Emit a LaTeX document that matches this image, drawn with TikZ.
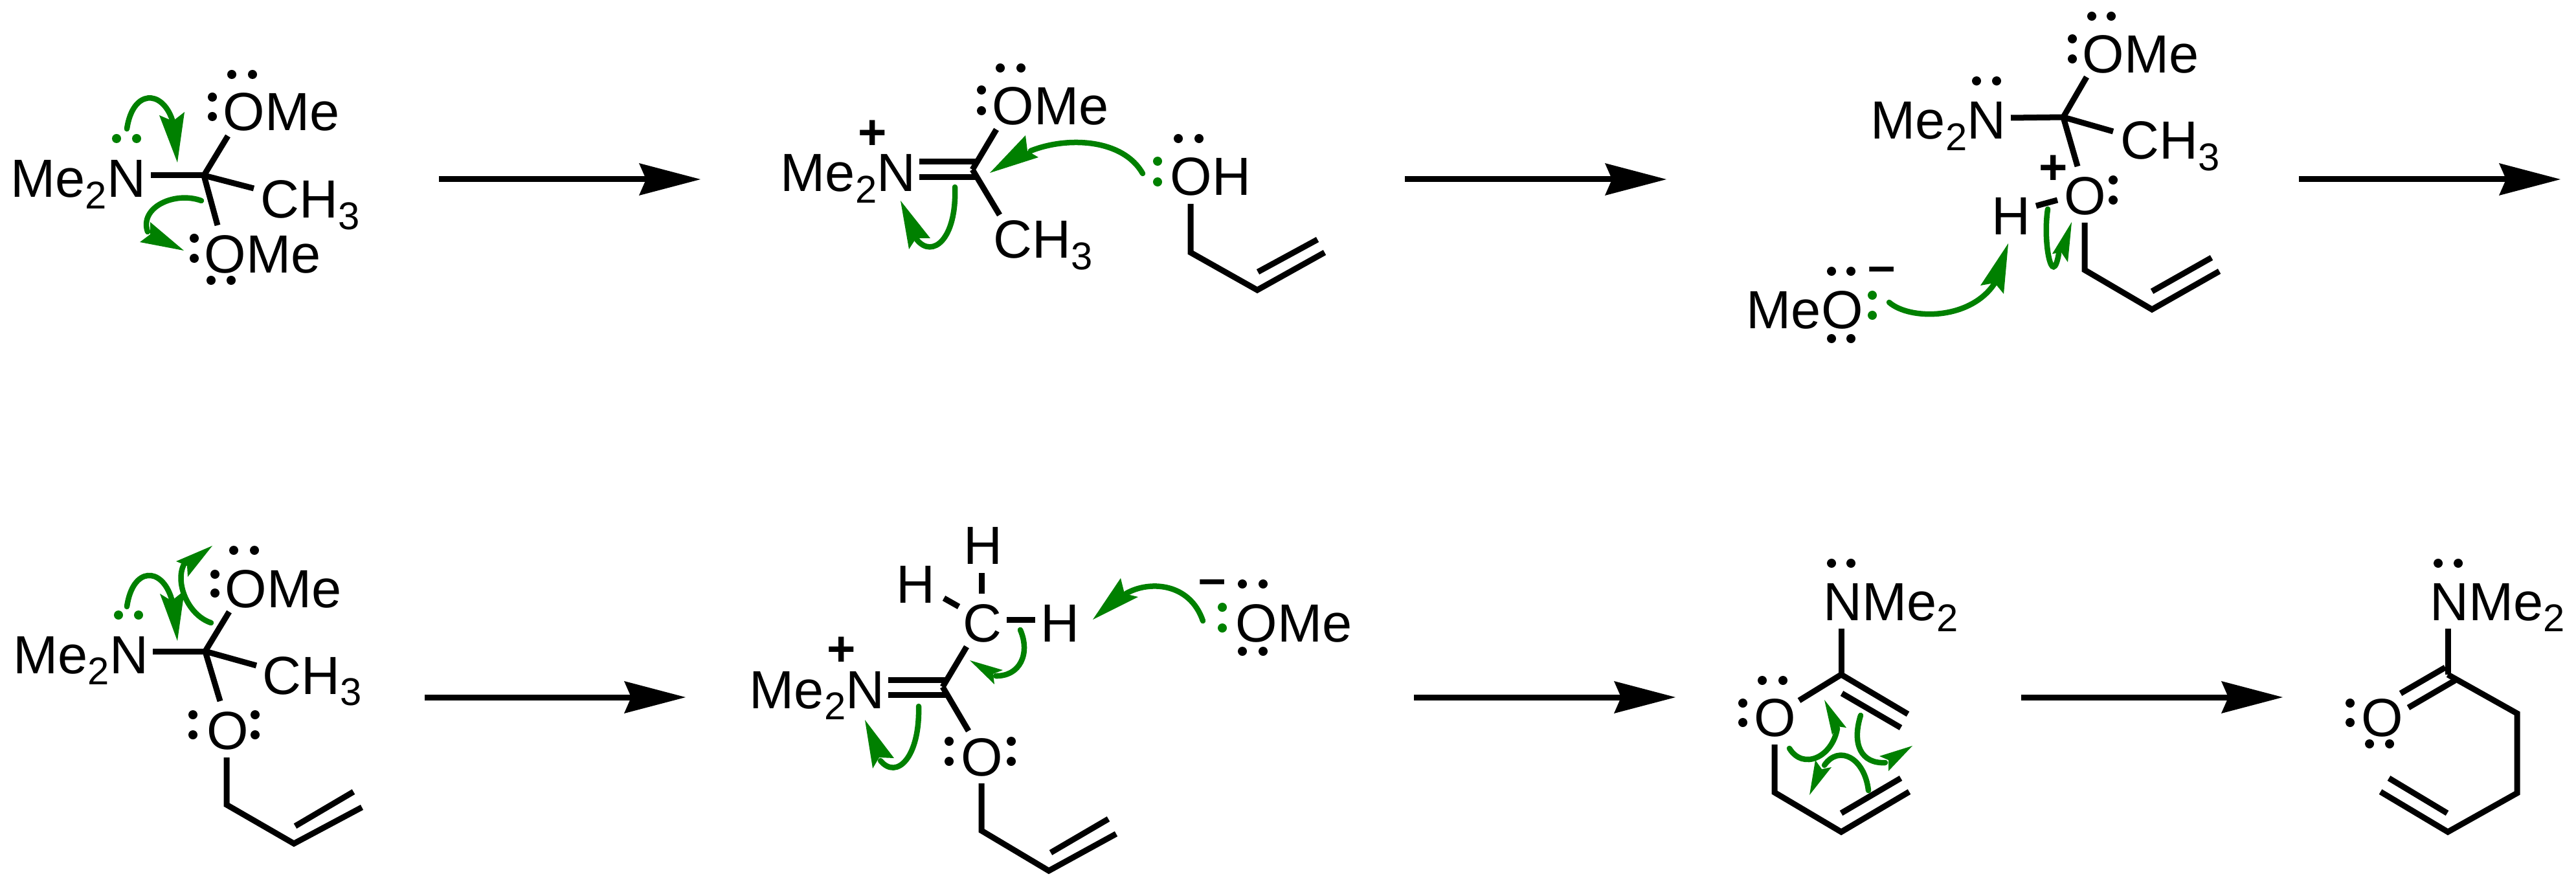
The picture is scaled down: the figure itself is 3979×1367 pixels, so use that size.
\documentclass[tikz,border=0pt]{standalone}
\usepackage{fontspec}
\setmainfont{Liberation Sans}
\usetikzlibrary{arrows.meta}
\definecolor{pushgreen}{RGB}{0,128,0}
\newcommand{\lowd}[1]{\raisebox{-0.17cm}{\fontsize{17}{17}\selectfont #1}}
% curved electron arrow: name, start, two controls, end, tip, barb, notch, barb
\newcommand{\curly}[9]{
  \coordinate (#1s) at #2;
  \coordinate (#1e) at #5;
  \draw[curlytail] (#1s) .. controls #3 and #4 .. (#1e);
  \fill[curlyhead] #6 -- #7 -- #8 -- #9 -- cycle;
}
\tikzset{
  atom/.style={anchor=base west,inner sep=0pt,font=\fontsize{23.6}{28}\selectfont},
  chg/.style={anchor=center,inner sep=0pt,font=\bfseries\fontsize{21.6}{26}\selectfont},
  bond/.style={line width=0.09cm,miter limit=10},
  react/.style={line width=0.09cm,-{Stealth[length=0.95cm,width=0.5cm,inset=0.11cm,line width=0pt]}},
  lp/.style={circle,fill=black,inner sep=0pt,minimum size=0.14cm},
  lpg/.style={lp,fill=pushgreen},
  curlytail/.style={draw=pushgreen,line width=0.085cm,line cap=round},
  curlyhead/.style={fill=pushgreen}
}
\begin{document}
\begin{tikzpicture}[x=0.01cm,y=-0.01cm]
  \useasboundingbox (0,0) rectangle (3979,1367);

  % reaction arrows
  \foreach \n/\x/\y in {r1a/678/277,r1b/1082/277,r2a/2170/277,r2b/2574/277,r3a/3551/277,r3b/3955/277,
    r4a/656/1077,r4b/1059/1077,r5a/2184/1077,r5b/2588/1077,r6a/3122/1077,r6b/3526/1077}
    \coordinate (\n) at (\x,\y);
  \draw[react] (r1a) -- (r1b);
  \draw[react] (r2a) -- (r2b);
  \draw[react] (r3a) -- (r3b);
  \draw[react] (r4a) -- (r4b);
  \draw[react] (r5a) -- (r5b);
  \draw[react] (r6a) -- (r6b);

  % first row
  \node[atom] (me2na) at (16,305) {Me\lowd{2}N};
  \node[atom] (omea) at (344,202) {OMe};
  \node[atom] (cha) at (402,337) {CH\lowd{3}};
  \node[atom] (omeb) at (315,422) {OMe};

  \node[atom] (me2nb) at (1205,296) {Me\lowd{2}N};
  \node[atom] (omec) at (1532,193) {OMe};
  \node[atom] (chb) at (1534,399) {CH\lowd{3}};
  \node[atom] (oha) at (1807,302) {OH};
  \node[chg] (plusa) at (1348,208) {+};

  \node[atom] (me2nc) at (2889,215) {Me\lowd{2}N};
  \node[atom] (omed) at (3216,113) {OMe};
  \node[atom] (chc) at (3275,246) {CH\lowd{3}};
  \node[atom] (oa) at (3188,332) {O};
  \node[atom] (ha) at (3076,363) {H};
  \node[atom] (meoa) at (2697,508) {MeO};
  \node[chg] (plusb) at (3172,262) {+};
  \node[chg] (minusa) at (2907,424) {–};

  % second row
  \node[atom] (me2nd) at (20,1040) {Me\lowd{2}N};
  \node[atom] (omee) at (347,938) {OMe};
  \node[atom] (chd) at (405,1072) {CH\lowd{3}};
  \node[atom] (ob) at (319,1157) {O};

  \node[atom] (me2ne) at (1157,1094) {Me\lowd{2}N};
  \node[atom] (ca) at (1487,991) {C};
  \node[atom] (hb) at (1488,871) {H};
  \node[atom] (hc) at (1384,931) {H};
  \node[atom] (hd) at (1607,991) {H};
  \node[atom] (omef) at (1908,991) {OMe};
  \node[atom] (oc) at (1484,1198) {O};
  \node[chg] (plusc) at (1300,1006) {+};
  \node[chg] (minusb) at (1873,907) {–};

  \node[atom] (nmea) at (2816,958) {NMe\lowd{2}};
  \node[atom] (od) at (2709,1137) {O};

  \node[atom] (nmeb) at (3753,958) {NMe\lowd{2}};
  \node[atom] (oe) at (3647,1137) {O};

  % lone pairs
  \foreach \n/\x/\y in {la/358/115,lb/390/115,lc/328/150,ld/328/180,le/300/368,lf/300/399,lg/326/433,lh/357/433,
    li/1545/105,lj/1577/105,lk/1516/139,ll/1516/171,lm/1820/214,ln/1852/214,
    lo/3231/25,lp/3261/25,lq/3201/60,lr/3201/91,ls/3053/125,lt/3084/125,lu/3264/278,lv/3264/309,
    lw/2829/419,lx/2859/419,ly/2829/523,lz/2859/523,
    ma/361/850,mb/393/850,mc/332/887,md/332/916,me/298/1104,mf/298/1135,mg/394/1104,mh/394/1135,
    mi/1919/902,mj/1951/902,mk/1919/1006,ml/1951/1006,mm/1466/1145,mn/1466/1176,mo/1562/1145,mp/1562/1176,
    mq/2829/870,mr/2859/870,ms/2722/1051,mt/2754/1051,mu/2692/1086,mv/2692/1116,
    mw/3766/870,mx/3797/870,my/3630/1086,mz/3630/1116,na/3660/1149,nb/3691/1149}
    \node[lp] (\n) at (\x,\y) {};
  \foreach \n/\x/\y in {ga/180/214,gb/211/214,gc/1788/249,gd/1788/281,ge/2892/456,gf/2892/487,
    gg/183/950,gh/214/950,gi/1888/938,gj/1888/970}
    \node[lpg] (\n) at (\x,\y) {};

  % bond ends
  \foreach \n/\x/\y in {ac/315/271,an/233/271,ao/352/210,am/392/291,ap/336/348,
    bc/1502/262,bn/1420/250,bd/1507/250,be/1420/274,bf/1507/274,bo/1539/200,bm/1544/332,
    bx/1839/315,by/1839/390,bz/1942/448,bw/2046/390,bu/1943/420,bv/2035/370,
    cc/3187/181,cn/3106/182,co/3223/119,cm/3264/203,cp/3209/257,ch/3145/318,ci/3178/309,
    cx/3220/344,cy/3220/417,cz/3324/478,cw/3428/419,cu/3324/450,cv/3416/398,
    dc/317/1006,dn/236/1006,do/354/945,dm/396/1028,dp/340/1083,
    dx/350/1170,dy/350/1243,dz/454/1303,dw/559/1247,du/456/1276,dv/546/1223,
    ec/1456/1061,en/1372/1050,ed/1461/1050,ee/1372/1073,ef/1461/1073,et/1493/999,ep/1496/1129,
    eg/1458/924,eh/1481/937,ei/1516/885,ej/1516/917,ek/1555/957,el/1599/957,
    ex/1516/1210,ey/1516/1283,ez/1620/1345,ew/1724/1288,eu/1623/1317,ev/1712/1265,
    fn/2844/971,fc/2844/1042,fa/2779/1082,fb/2947/1103,fd/2845/1071,fe/2936/1124,
    fx/2741/1150,fy/2741/1224,fz/2844/1285,fw/2949/1223,fu/2844/1256,fv/2936/1202,
    pn/3781/971,pc/3781/1042,pr/3888/1102,ps/3888/1225,pz/3781/1285,pw/3677/1223,pu/3780/1256,pv/3690/1202,
    pa/3777/1031,pb/3708/1071,pd/3792/1051,pe/3720/1093}
    \coordinate (\n) at (\x,\y);

  % first row bonds
  \draw[bond] (an) -- (ac);
  \draw[bond] (ac) -- (ao);
  \draw[bond] (ac) -- (am);
  \draw[bond] (ac) -- (ap);

  \draw[bond] (bn) -- (bd);
  \draw[bond] (be) -- (bf);
  \draw[bond] (bc) -- (bo);
  \draw[bond] (bc) -- (bm);
  \draw[bond] (bx) -- (by) -- (bz) -- (bw);
  \draw[bond] (bu) -- (bv);

  \draw[bond] (cn) -- (cc);
  \draw[bond] (cc) -- (co);
  \draw[bond] (cc) -- (cm);
  \draw[bond] (cc) -- (cp);
  \draw[bond] (ch) -- (ci);
  \draw[bond] (cx) -- (cy) -- (cz) -- (cw);
  \draw[bond] (cu) -- (cv);

  % second row bonds
  \draw[bond] (dn) -- (dc);
  \draw[bond] (dc) -- (do);
  \draw[bond] (dc) -- (dm);
  \draw[bond] (dc) -- (dp);
  \draw[bond] (dx) -- (dy) -- (dz) -- (dw);
  \draw[bond] (du) -- (dv);

  \draw[bond] (en) -- (ed);
  \draw[bond] (ee) -- (ef);
  \draw[bond] (ec) -- (et);
  \draw[bond] (ec) -- (ep);
  \draw[bond] (eg) -- (eh);
  \draw[bond] (ei) -- (ej);
  \draw[bond] (ek) -- (el);
  \draw[bond] (ex) -- (ey) -- (ez) -- (ew);
  \draw[bond] (eu) -- (ev);

  \draw[bond] (fn) -- (fc);
  \draw[bond] (fa) -- (fc) -- (fb);
  \draw[bond] (fd) -- (fe);
  \draw[bond] (fx) -- (fy) -- (fz) -- (fw);
  \draw[bond] (fu) -- (fv);

  \draw[bond] (pn) -- (pc);
  \draw[bond] (pc) -- (pr) -- (ps) -- (pz) -- (pw);
  \draw[bond] (pu) -- (pv);
  \draw[bond] (pa) -- (pb);
  \draw[bond] (pd) -- (pe);

  % electron pushing
  \curly{ka}{(196,199)}{(205,138)}{(250,138)}{(266,185)}{(274,251)}{(246,178)}{(267,187)}{(285,173)}
  \curly{kb}{(311,310)}{(270,295)}{(215,320)}{(228,358)}{(284,387)}{(232,343)}{(232,362)}{(216,374)}
  \curly{kc}{(1765,268)}{(1735,215)}{(1650,210)}{(1592,233)}{(1529,267)}{(1584,209)}{(1587,233)}{(1604,243)}
  \curly{kd}{(1475,289)}{(1478,370)}{(1440,400)}{(1416,370)}{(1391,310)}{(1437,368)}{(1415,368)}{(1404,385)}
  \curly{ke}{(2918,467)}{(2950,495)}{(3045,495)}{(3082,436)}{(3102,376)}{(3059,441)}{(3081,437)}{(3095,454)}
  \curly{kf}{(3163,323)}{(3155,375)}{(3170,448)}{(3180,392)}{(3200,343)}{(3170,392)}{(3184,390)}{(3194,405)}

  \curly{kg}{(196,937)}{(205,875)}{(250,875)}{(265,925)}{(274,990)}{(247,917)}{(265,928)}{(285,912)}
  \curly{kh}{(326,962)}{(290,950)}{(270,900)}{(284,872)}{(328,843)}{(272,867)}{(289,874)}{(290,891)}
  \curly{ki}{(1858,959)}{(1838,900)}{(1775,896)}{(1739,917)}{(1688,957)}{(1731,893)}{(1737,917)}{(1758,922)}
  \curly{kj}{(1576,973)}{(1592,1010)}{(1575,1045)}{(1538,1044)}{(1498,1020)}{(1549,1035)}{(1534,1041)}{(1536,1057)}
  \curly{kk}{(1419,1091)}{(1421,1170)}{(1385,1205)}{(1360,1175)}{(1336,1112)}{(1381,1171)}{(1358,1170)}{(1348,1187)}
  \curly{kl}{(2764,1156)}{(2785,1190)}{(2830,1170)}{(2838,1125)}{(2818,1081)}{(2830,1135)}{(2838,1122)}{(2852,1124)}
  \curly{km}{(2874,1105)}{(2860,1150)}{(2875,1180)}{(2912,1178)}{(2954,1152)}{(2903,1168)}{(2917,1174)}{(2917,1191)}
  \curly{kn}{(2886,1221)}{(2880,1170)}{(2840,1150)}{(2818,1182)}{(2795,1228)}{(2804,1174)}{(2814,1188)}{(2829,1185)}
\end{tikzpicture}
\end{document}
